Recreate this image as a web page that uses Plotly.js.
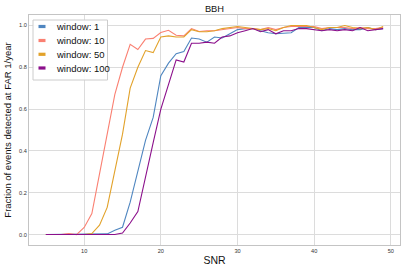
<!DOCTYPE html>
<html>
<head>
<meta charset="utf-8">
<script src="https://cdn.plot.ly/plotly-3.0.1.min.js"></script>
<style>html,body{margin:0;padding:0;background:#fff;}#chart{width:407px;height:271px;}</style>
</head>
<body>
<div id="chart"></div>
<script>
const snr = [5,6,7,8,9,10,11,12,13,14,15,16,17,18,19,20,21,22,23,24,25,26,27,28,29,30,31,32,33,34,35,36,37,38,39,40,41,42,43,44,45,46,47,48,49];
const window1 = [0,0,0,0,0,0,0,0,0.003,0.02,0.035,0.155,0.30,0.45,0.56,0.76,0.82,0.865,0.875,0.94,0.935,0.92,0.945,0.94,0.96,0.98,0.985,0.985,0.975,0.965,0.96,0.962,0.965,0.99,0.99,0.99,0.975,0.985,0.98,0.985,0.98,0.98,0.99,0.98,0.985];
const window10 = [0,0,0,0.005,0,0.034,0.10,0.29,0.48,0.67,0.80,0.91,0.885,0.935,0.938,0.966,0.977,0.953,0.95,0.985,0.971,0.975,0.975,0.98,0.985,0.99,0.985,0.985,0.98,0.99,0.98,0.99,0.995,0.995,0.995,0.995,0.985,0.99,0.99,0.99,0.985,0.99,0.985,0.985,0.99];
const window50 = [0,0,0,0,0,0,0.005,0.045,0.13,0.30,0.48,0.70,0.80,0.88,0.87,0.945,0.95,0.945,0.945,0.98,0.97,0.97,0.975,0.985,0.99,0.995,0.99,0.985,0.98,0.985,0.975,0.99,1.0,1.0,1.0,0.99,0.98,0.99,0.99,1.0,0.99,0.985,0.99,0.98,0.995];
const window100 = [0,0,0,0,0,0,0,0,0,0,0.007,0.055,0.11,0.28,0.44,0.60,0.72,0.835,0.825,0.915,0.915,0.92,0.915,0.945,0.95,0.965,0.975,0.985,0.97,0.98,0.96,0.975,0.975,0.985,0.985,0.98,0.975,0.98,0.975,0.98,0.975,0.99,0.975,0.98,0.985];
const seriesNames = ['window: 1','window: 10','window: 50','window: 100'];
const seriesColors = ['#4f86c0','#fa8072','#e2a22a','#8b0f8b'];
const xTicks = [10,20,30,40,50];
const yTicks = [0,0.2,0.4,0.6,0.8,1.0];

const W = 407, H = 271;
const M = {l: 29, r: 7, t: 15, b: 26};
const PW = W - M.l - M.r, PH = H - M.t - M.b;
const px = x => (x - M.l) / PW;
const py = y => (H - M.b - y) / PH;

const allY = [window1, window10, window50, window100];
const traces = allY.map((ys, i) => ({
  x: snr, y: ys, type: 'scatter', mode: 'lines',
  name: seriesNames[i], showlegend: false,
  line: {color: seriesColors[i], width: 1.1}
}));

const fontFam = 'Liberation Sans, Arial, Helvetica, sans-serif';
const axisCommon = {
  showgrid: true, gridcolor: '#dcdcdc', gridwidth: 1,
  zeroline: false, showline: true, mirror: true,
  linecolor: '#c4c4c4', linewidth: 1,
  ticks: '', tickfont: {size: 5.6, color: '#333', family: fontFam}
};

// custom matplotlib-style legend (box, short handles, labels)
const shapes = [{
  type: 'rect', xref: 'paper', yref: 'paper', layer: 'above',
  x0: px(33), x1: px(107.5), y0: py(80), y1: py(20),
  fillcolor: 'rgba(255,255,255,0.9)', line: {color: '#cccccc', width: 1}
}];
const annotations = [];
const rowY = [26.5, 40.5, 54.3, 68];
seriesNames.forEach((name, i) => {
  shapes.push({
    type: 'rect', xref: 'paper', yref: 'paper', layer: 'above',
    x0: px(38.5), x1: px(45.5), y0: py(rowY[i] + 1.6), y1: py(rowY[i] - 1.6),
    fillcolor: seriesColors[i], line: {width: 0}
  });
  annotations.push({
    xref: 'paper', yref: 'paper', x: px(53.5), y: py(rowY[i]),
    xanchor: 'left', yanchor: 'middle', showarrow: false,
    text: name, font: {size: 9.5, color: '#111', family: fontFam}
  });
});

const layout = {
  width: W, height: H,
  margin: M,
  paper_bgcolor: '#fff', plot_bgcolor: '#fff',
  font: {family: fontFam, color: '#111'},
  title: {text: 'BBH', font: {size: 9.3, color: '#111'}, x: 0.527, xanchor: 'center', y: 0.968, yanchor: 'middle', yref: 'container'},
  xaxis: Object.assign({}, axisCommon, {
    range: [2.8, 51.2], tickvals: xTicks, ticktext: xTicks.map(String),
    title: {text: 'SNR', font: {size: 10.5, color: '#111'}, standoff: 3}
  }),
  yaxis: Object.assign({}, axisCommon, {
    range: [-0.05, 1.05], tickvals: yTicks, ticktext: yTicks.map(v => v.toFixed(1)),
    title: {text: 'Fraction of events detected at FAR 1/year', font: {size: 9.5, color: '#111'}, standoff: 5}
  }),
  showlegend: false,
  shapes: shapes,
  annotations: annotations
};

Plotly.newPlot('chart', traces, layout, {displayModeBar: false, staticPlot: true});
</script>
</body>
</html>
